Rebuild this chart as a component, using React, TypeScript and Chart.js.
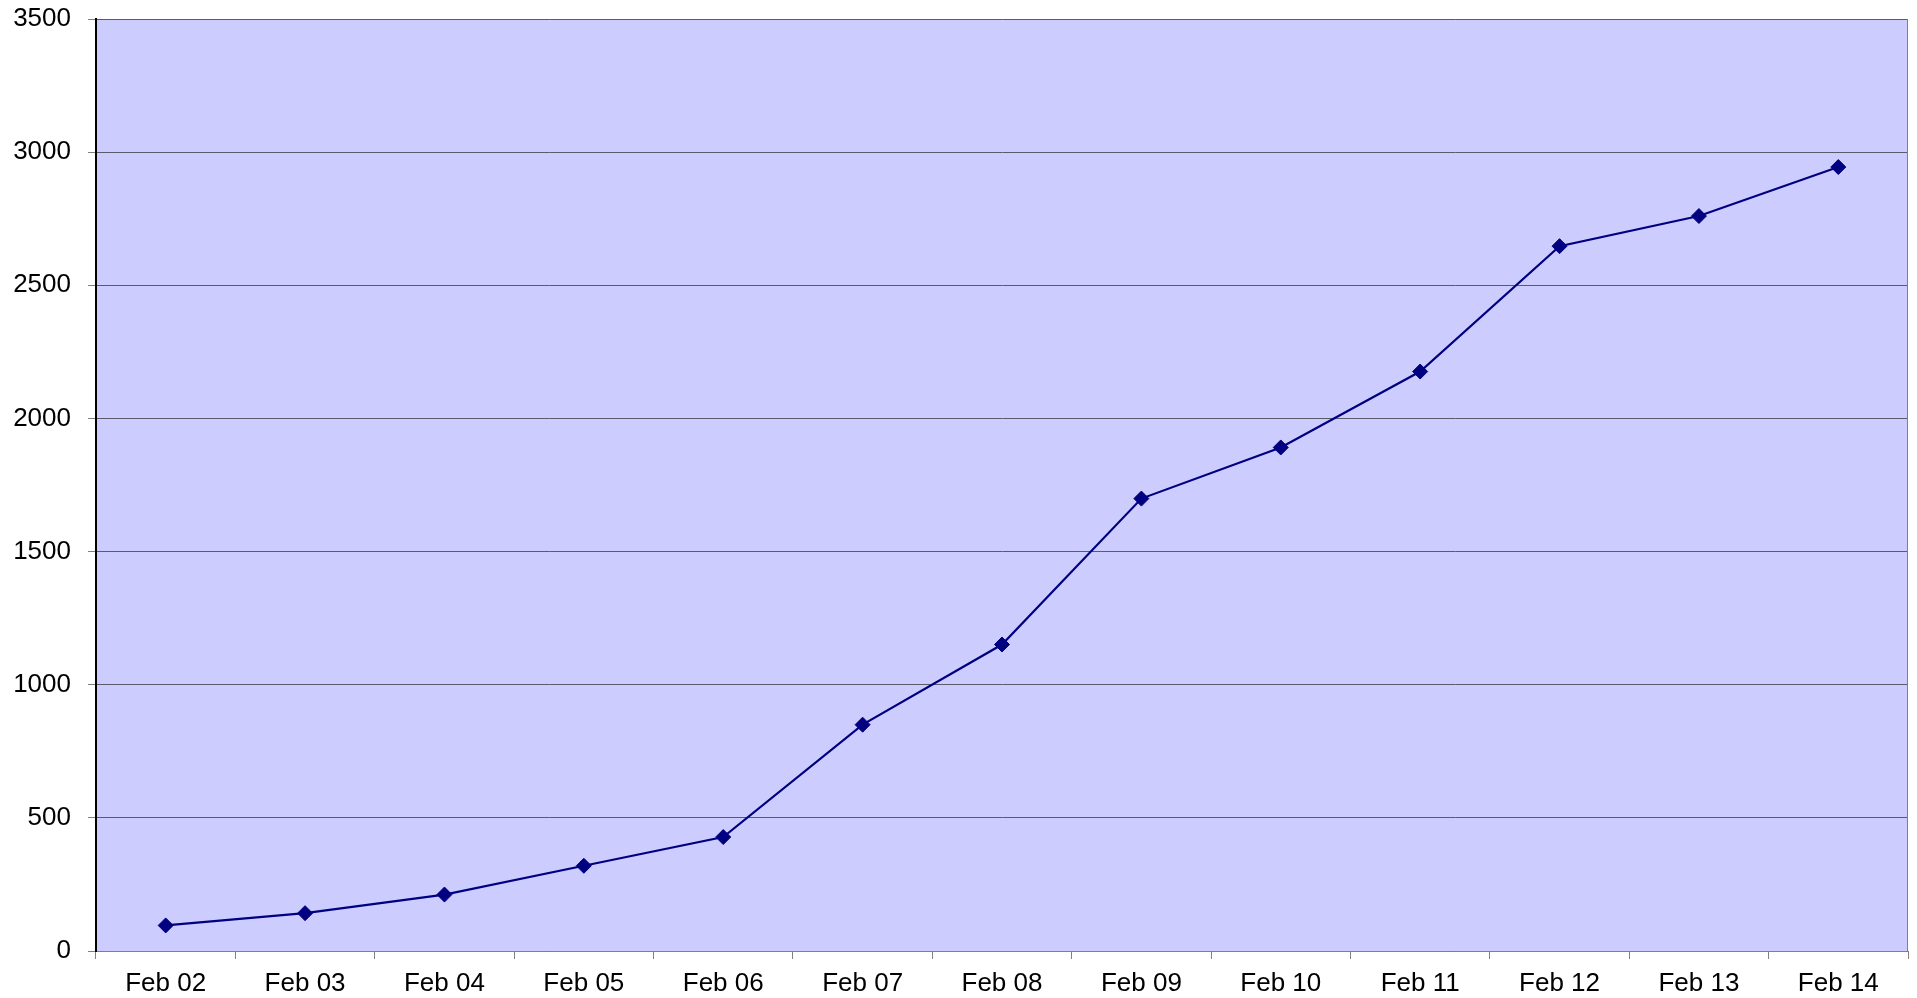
import React, { useEffect, useRef } from "react";
import { Chart, registerables } from "chart.js";

Chart.register(...registerables);

const categories = ["Feb 02", "Feb 03", "Feb 04", "Feb 05", "Feb 06", "Feb 07", "Feb 08", "Feb 09", "Feb 10", "Feb 11", "Feb 12", "Feb 13", "Feb 14"];
const values = [96, 142, 212, 320, 428, 850, 1151, 1699, 1891, 2176, 2647, 2760, 2944];
const yMin = 0;
const yMax = 3500;
const yStep = 500;

const plotBg = {
  id: "plotBg",
  beforeDraw(chart: any) {
    const { ctx, chartArea: a } = chart;
    ctx.save();
    ctx.fillStyle = "#CCCCFF";
    ctx.fillRect(a.left, a.top, a.right - a.left, a.bottom - a.top);
    ctx.restore();
  },
  afterDatasetsDraw(chart: any) {
    const { ctx, chartArea: a } = chart;
    ctx.save();
    ctx.strokeStyle = "#808080";
    ctx.lineWidth = 1;
    ctx.beginPath();
    ctx.moveTo(a.right - 0.5, a.top);
    ctx.lineTo(a.right - 0.5, a.bottom);
    ctx.stroke();
    ctx.restore();
  },
};

export default function App() {
  const ref = useRef<HTMLCanvasElement>(null);
  useEffect(() => {
    const chart = new Chart(ref.current as HTMLCanvasElement, {
      type: "line",
      data: {
        labels: categories,
        datasets: [
          {
            data: values,
            borderColor: "#000080",
            backgroundColor: "#000080",
            borderWidth: 2.2,
            tension: 0,
            pointStyle: "rectRot",
            pointRadius: 7.5,
            pointBorderWidth: 1,
            pointBackgroundColor: "#000080",
            pointBorderColor: "#000080",
            fill: false,
          },
        ],
      },
      plugins: [plotBg],
      options: {
        animation: false,
        responsive: false,
        devicePixelRatio: 1,
        layout: { padding: { top: 19, right: 9, bottom: 0, left: 0 } },
        plugins: { legend: { display: false }, tooltip: { enabled: false } },
        scales: {
          x: {
            type: "category",
            offset: true,
            grid: {
              offset: true,
              drawOnChartArea: false,
              drawTicks: true,
              tickLength: 8,
              tickColor: "#808080",
              tickWidth: 1,
            },
            border: { display: true, color: "#808080", width: 1 },
            ticks: {
              color: "#000",
              font: { family: "'Liberation Sans', Arial, sans-serif", size: 26 },
              padding: 9,
              maxRotation: 0,
              autoSkip: false,
            },
            afterFit(scale: any) {
              scale.height = 47;
              scale.paddingLeft = 0;
              scale.paddingRight = 0;
            },
          },
          y: {
            min: yMin,
            max: yMax,
            grid: {
              color: "#5a5a6a",
              lineWidth: 1,
              drawTicks: true,
              tickLength: 8,
              tickColor: "#808080",
            },
            border: { display: true, color: "#000", width: 2 },
            ticks: {
              stepSize: yStep,
              color: "#000",
              font: { family: "'Liberation Sans', Arial, sans-serif", size: 26 },
              padding: 17,
              callback: (v: any) => String(v),
            },
            afterFit(scale: any) {
              scale.width = 96;
              scale.paddingTop = 0;
              scale.paddingBottom = 0;
            },
          },
        },
      },
    } as any);
    return () => chart.destroy();
  }, []);
  return (
    <div style={{ position: "absolute", left: 0, top: 0, width: 1917, height: 998, background: "#fff" }}>
      <canvas ref={ref} width={1917} height={998} style={{ display: "block" }} />
    </div>
  );
}
